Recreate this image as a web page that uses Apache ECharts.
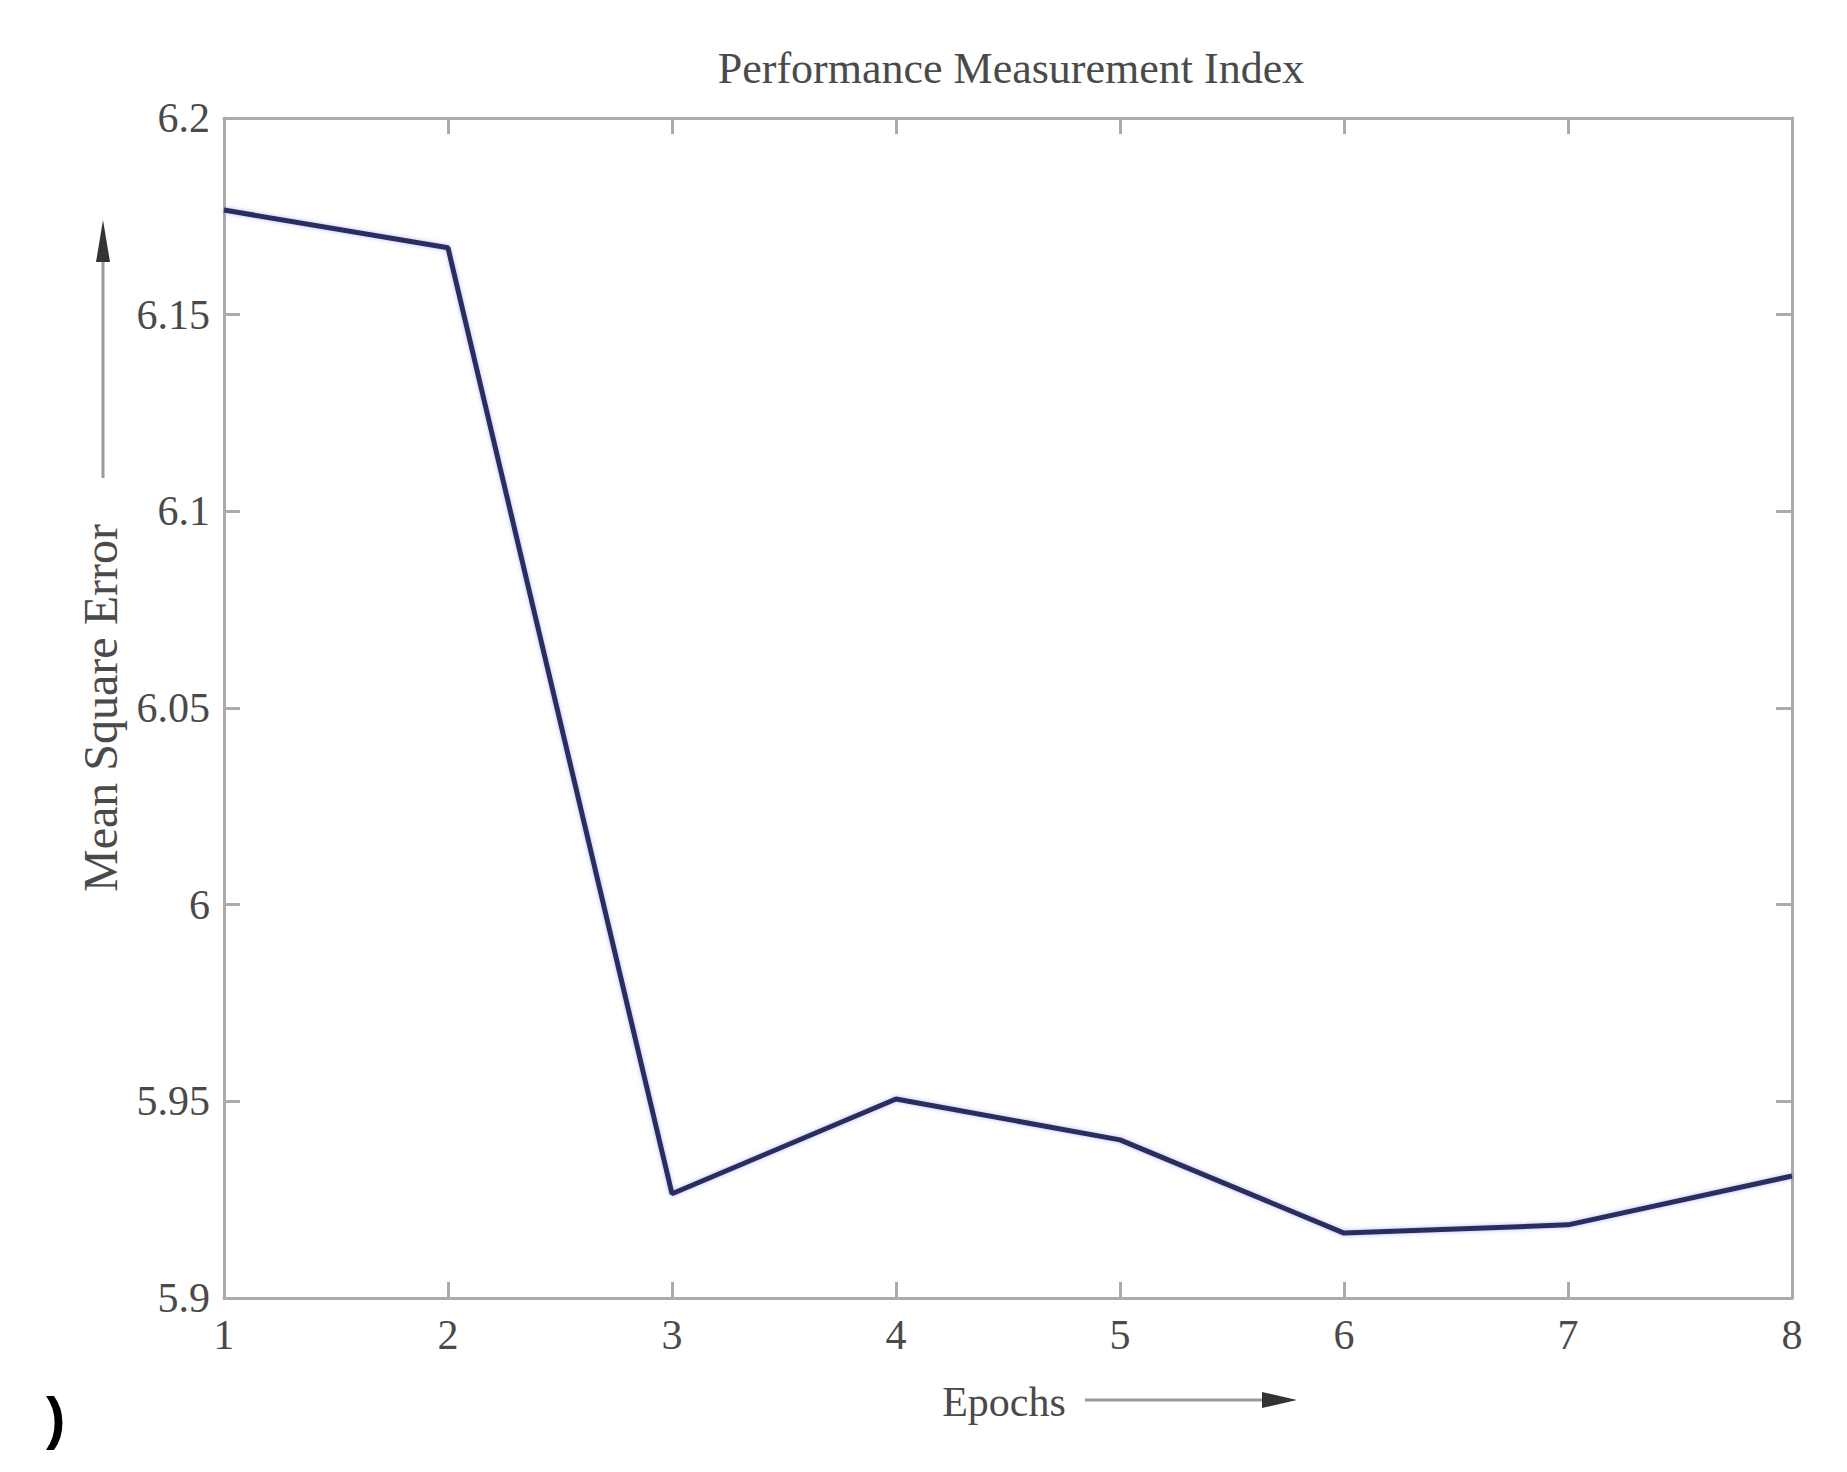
<!DOCTYPE html>
<html>
<head>
<meta charset="utf-8">
<script src="https://cdn.jsdelivr.net/npm/echarts@6/dist/echarts.min.js"></script>
<style>
html,body{margin:0;padding:0;background:#fff;}
#chart{width:1847px;height:1472px;}
</style>
</head>
<body>
<div id="chart"></div>
<script>
const epochs = ['1','2','3','4','5','6','7','8'];
const mseValues = [6.1766, 6.1670, 5.9265, 5.9506, 5.9402, 5.9165, 5.9186, 5.9310];
const yTickLabels = ['5.9','5.95','6','6.05','6.1','6.15','6.2'];
const titleText = 'Performance Measurement Index';
const xName = 'Epochs';
const yName = 'Mean Square Error';

const FONT = '"Liberation Serif", "Times New Roman", serif';
const TXT = '#4a4a4a';
const FRAME = '#ababab';

const chart = echarts.init(document.getElementById('chart'), null, {renderer: 'svg'});

const tickFmt = (v) => {
  const idx = Math.round((v - 5.9) / 0.05);
  return yTickLabels[idx] !== undefined ? yTickLabels[idx] : '';
};

chart.setOption({
  backgroundColor: '#ffffff',
  animation: false,
  title: {
    text: titleText,
    left: 1006, top: 41, textAlign: 'center',
    textStyle: {fontFamily: FONT, fontSize: 44, fontWeight: 'normal', color: TXT}
  },
  grid: {left: 224, top: 118, right: 55, bottom: 174, containLabel: false},
  xAxis: [
    {
      type: 'category', data: epochs, boundaryGap: false, position: 'bottom',
      axisLine: {show: true, lineStyle: {color: FRAME, width: 3}},
      axisTick: {show: true, inside: true, length: 16, lineStyle: {color: FRAME, width: 3}},
      axisLabel: {fontFamily: FONT, fontSize: 42, color: TXT, margin: 16},
      splitLine: {show: false}
    },
    {
      type: 'category', data: epochs, boundaryGap: false, position: 'top',
      axisLine: {show: true, lineStyle: {color: FRAME, width: 3}},
      axisTick: {show: true, inside: true, length: 16, lineStyle: {color: FRAME, width: 3}},
      axisLabel: {show: false},
      splitLine: {show: false}
    }
  ],
  yAxis: [
    {
      type: 'value', min: 5.9, max: 6.2, interval: 0.05, position: 'left',
      axisLine: {show: true, lineStyle: {color: FRAME, width: 3}},
      axisTick: {show: true, inside: true, length: 16, lineStyle: {color: FRAME, width: 3}},
      axisLabel: {fontFamily: FONT, fontSize: 42, color: TXT, margin: 14, formatter: tickFmt},
      splitLine: {show: false}
    },
    {
      type: 'value', min: 5.9, max: 6.2, interval: 0.05, position: 'right',
      axisLine: {show: true, lineStyle: {color: FRAME, width: 3}},
      axisTick: {show: true, inside: true, length: 16, lineStyle: {color: FRAME, width: 3}},
      axisLabel: {show: false},
      splitLine: {show: false}
    }
  ],
  series: [{
    type: 'line', xAxisIndex: 0, yAxisIndex: 0,
    data: mseValues,
    symbol: 'none',
    lineStyle: {color: '#2b2e5e', width: 5, shadowColor: 'rgba(90,100,230,0.45)', shadowBlur: 4}
  }],
  graphic: [
    {type: 'text', x: 1004, y: 1402, style: {text: xName, fontFamily: FONT, fontSize: 42, fill: TXT, textAlign: 'center', textVerticalAlign: 'middle'}},
    {type: 'line', shape: {x1: 1085, y1: 1400, x2: 1264, y2: 1400}, style: {stroke: '#9a9a9a', lineWidth: 3}},
    {type: 'polygon', shape: {points: [[1297,1400],[1262,1392],[1262,1408]]}, style: {fill: '#333'}},
    {type: 'text', x: 100, y: 708, rotation: Math.PI/2, style: {text: yName, fontFamily: FONT, fontSize: 48, fill: TXT, textAlign: 'center', textVerticalAlign: 'middle'}},
    {type: 'line', shape: {x1: 103, y1: 478, x2: 103, y2: 258}, style: {stroke: '#9a9a9a', lineWidth: 3}},
    {type: 'polygon', shape: {points: [[103,220],[96,262],[110,262]]}, style: {fill: '#333'}},
    {type: 'text', x: 46, y: 1417, style: {text: ')', fontFamily: '"Liberation Sans", sans-serif', fontWeight: 'bold', fontSize: 58, fill: '#000', textAlign: 'left', textVerticalAlign: 'middle'}}
  ]
});
</script>
</body>
</html>
